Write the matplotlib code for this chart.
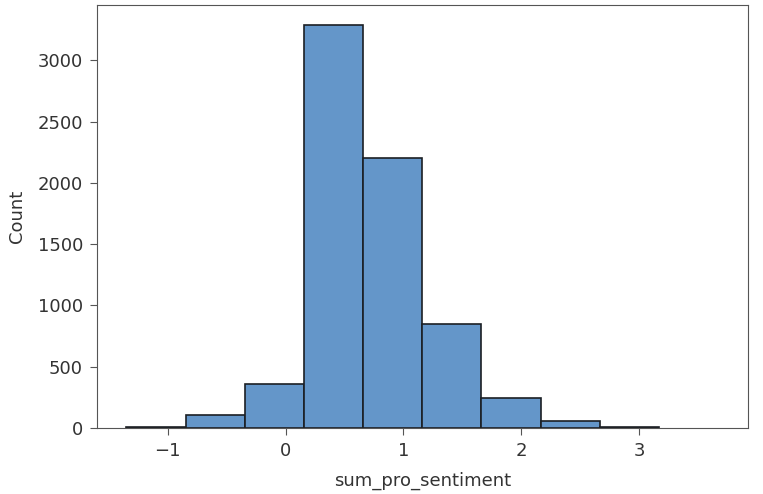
import matplotlib
matplotlib.use("Agg")
import matplotlib.pyplot as plt
import numpy as np

# histogram of sum_pro_sentiment, counts
bin_left = -1.35
bin_width = 0.502
counts = [10, 104, 358, 3289, 2205, 850, 246, 55, 6, 0]
edges = bin_left + bin_width * np.arange(len(counts) + 1)

fig = plt.figure(figsize=(7.63, 4.94), dpi=100)
ax = fig.add_axes([0.127, 0.134, 0.853, 0.856])

# empty bins draw nothing
shown = [i for i, c in enumerate(counts) if c > 0]
ax.bar(edges[shown], [counts[i] for i in shown], width=bin_width, align='edge',
       color='#6496c9', edgecolor='#1b1f24', linewidth=1.2)

span = edges[-1] - edges[0]
ax.set_xlim(edges[0] - 0.05 * span, edges[-1] + 0.05 * span)

txt = '#333333'
ax.set_xlabel('sum_pro_sentiment', fontsize=13, color=txt, labelpad=9)
ax.set_ylabel('Count', fontsize=13, color=txt, labelpad=8)
ax.tick_params(labelsize=13, labelcolor=txt, color='#555555', length=5, pad=5)
ax.set_xticks([-1, 0, 1, 2, 3])
ax.set_yticks([0, 500, 1000, 1500, 2000, 2500, 3000])
for s in ax.spines.values():
    s.set_color('#555555')

fig.savefig('out.png', dpi=100)
